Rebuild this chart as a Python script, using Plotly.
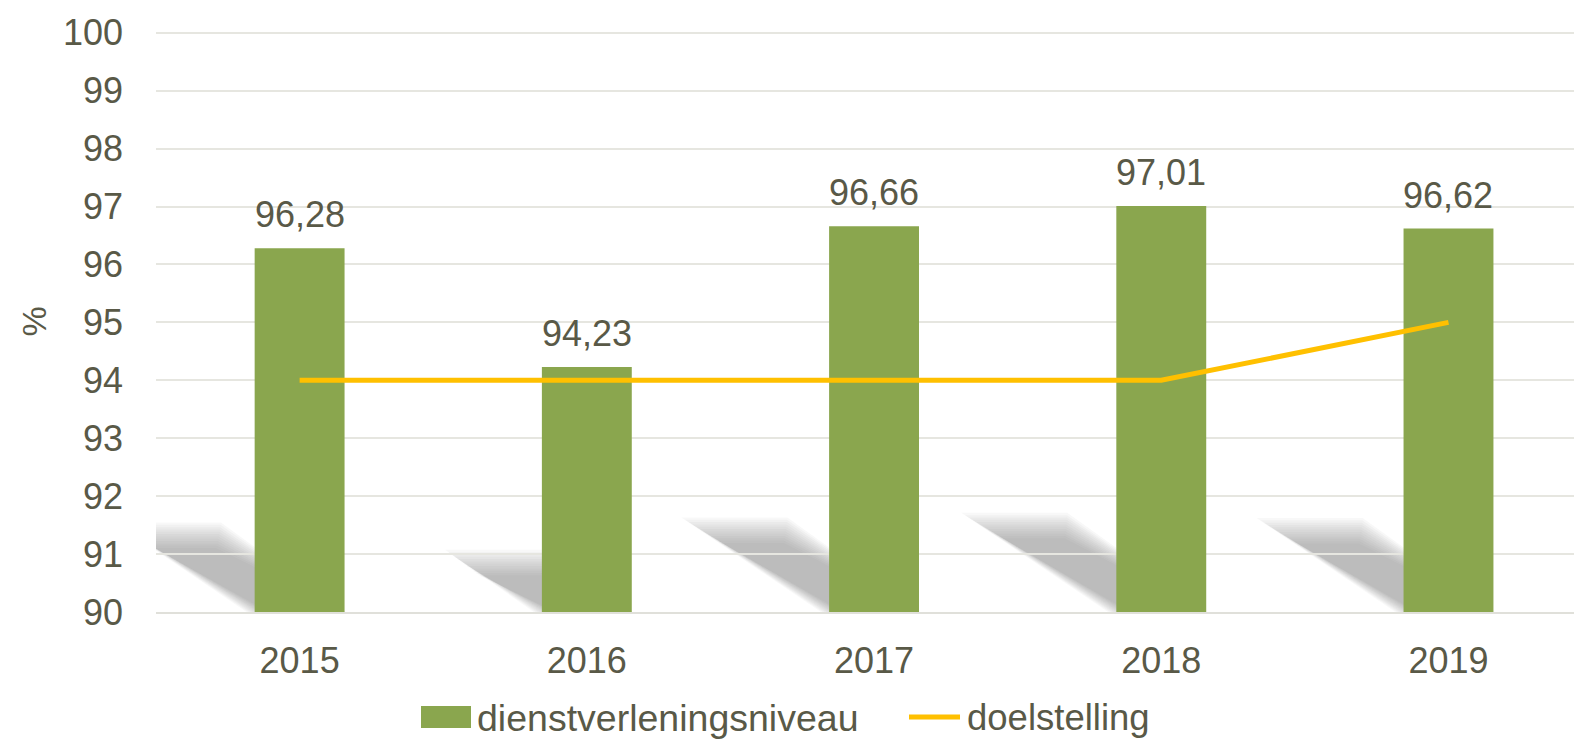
import plotly.graph_objects as go

# chart data
years = ["2015", "2016", "2017", "2018", "2019"]
niveau = [96.28, 94.23, 96.66, 97.01, 96.62]
doelstelling = [94, 94, 94, 94, 95]

TEXT = "#595947"
GREEN = "#8AA64E"
YELLOW = "#FFC000"
FONT = "Liberation Sans, Arial, sans-serif"
BAR_W = 0.313

fig = go.Figure()

fig.add_trace(go.Bar(
    x=years, y=niveau, name="dienstverleningsniveau",
    marker=dict(color=GREEN, line=dict(width=0)),
    width=BAR_W, showlegend=False,
))

fig.add_trace(go.Scatter(
    x=years, y=doelstelling, name="doelstelling", mode="lines",
    line=dict(color=YELLOW, width=5), showlegend=False,
))

# value labels above the bars (category index as x)
annotations = []
for i, v in enumerate(niveau):
    annotations.append(dict(x=i, y=v, xref="x", yref="y", text=f"{v:.2f}".replace(".", ","),
                            showarrow=False, yanchor="bottom", yshift=11,
                            font=dict(size=36, color=TEXT, family=FONT)))

# custom legend / title positions (pixel positions converted to paper)
W, H, L, T = 1418.0, 581.0, 156.0, 31.0
def px(x):
    return (x - L) / W
def py(y):
    return 1 - (y - T) / H

# y axis title
annotations.append(dict(x=px(33), y=0.5, xref="paper", yref="paper", text="%",
                        textangle=-90, showarrow=False, xanchor="center", yanchor="middle",
                        font=dict(size=34, color=TEXT, family=FONT)))

# soft perspective shadows behind the bars (built from bar values)
shapes = []
for i, v in enumerate(niveau):
    h = v - 90
    dx = -0.073 * h
    top = 90 + 0.23 * h
    for k in range(12):
        o = (k - 4) * 0.007
        t = top + 0.1 - k * 0.04
        d = dx * (1 - k * 0.012)
        path = "M {a},{b} L {c},{b} L {e},{f} L {g},{f} Z".format(
            a=i - BAR_W / 2 + o, b=90,
            c=i + BAR_W / 2, e=i + BAR_W / 2 + d - o, f=t,
            g=i - BAR_W / 2 + d + o)
        shapes.append(dict(type="path", path=path, xref="x", yref="y",
                           fillcolor="rgba(120,120,120,0.05)",
                           line=dict(width=0), layer="below"))

shapes.append(dict(type="rect", xref="paper", yref="paper",
                   x0=px(421), x1=px(471), y0=py(706), y1=py(728),
                   fillcolor=GREEN, line=dict(width=0)))
shapes.append(dict(type="line", xref="paper", yref="paper",
                   x0=px(909), x1=px(960), y0=py(717), y1=py(717),
                   line=dict(color=YELLOW, width=5)))
annotations.append(dict(x=px(475), y=py(718), xref="paper", yref="paper",
                        text="dienstverleningsniveau", showarrow=False,
                        xanchor="left", yanchor="middle",
                        font=dict(size=37.5, color=TEXT, family=FONT)))
annotations.append(dict(x=px(965), y=py(718), xref="paper", yref="paper",
                        text="doelstelling", showarrow=False,
                        xanchor="left", yanchor="middle",
                        font=dict(size=36.5, color=TEXT, family=FONT)))

fig.update_layout(
    width=1576, height=740,
    margin=dict(l=156, r=2, t=31, b=128),
    paper_bgcolor="white", plot_bgcolor="white",
    font=dict(family=FONT, color=TEXT, size=36),
    shapes=shapes,
    annotations=annotations,
    showlegend=False,
    xaxis=dict(type="category", range=[-0.5, 4.437], showgrid=False, automargin=False,
               showline=True, linecolor="#E0E0DA", linewidth=2,
               ticks="", tickfont=dict(size=36, color=TEXT), ticklabelstandoff=16),
    yaxis=dict(range=[90, 100.03], dtick=1, showgrid=True, gridcolor="#E6E6E0", gridwidth=2,
               zeroline=False, showline=False, ticks="", automargin=False,
               tickfont=dict(size=36, color=TEXT), ticklabelstandoff=32),
)

# drop the browser's default page margin so the chart fills the window
fig.write_html("out.html", config={"displayModeBar": False},
               post_script="document.body.style.margin='0';")
